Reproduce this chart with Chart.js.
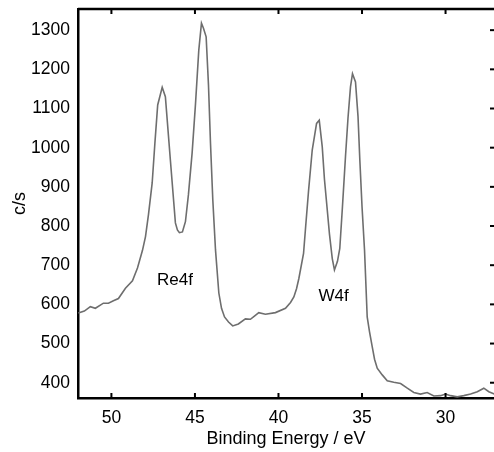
<!DOCTYPE html>
<html>
<head>
<meta charset="utf-8">
<script src="https://cdn.jsdelivr.net/npm/chart.js@4.4.1/dist/chart.umd.min.js"></script>
<style>
html, body { margin: 0; padding: 0; background: #fff; }
</style>
</head>
<body>
<canvas id="myChart" width="494" height="452"></canvas>
<script>
// binding energy (eV) and counts (c/s)
var energy = [
    51.98, 51.62, 51.26, 50.96, 50.48, 50.18, 49.88, 49.58, 49.16, 48.74,
    48.44, 48.14, 47.96, 47.78, 47.56, 47.40, 47.23, 46.96, 46.77, 46.47,
    46.17, 46.05, 45.93, 45.75, 45.57, 45.39, 45.17, 44.97, 44.77, 44.61,
    44.49, 44.33, 44.19, 44.07, 43.93, 43.77, 43.57, 43.41, 43.23, 42.99,
    42.74, 42.40, 41.98, 41.68, 41.44, 41.18, 40.78, 40.18, 39.58, 39.28,
    39.08, 38.92, 38.78, 38.50, 38.38, 38.20, 37.98, 37.72, 37.56, 37.38,
    37.25, 37.08, 36.95, 36.78, 36.65, 36.47, 36.33, 36.17, 35.99, 35.84,
    35.69, 35.57, 35.39, 35.24, 35.13, 35.00, 34.85, 34.69, 34.55, 34.39,
    34.25, 34.09, 33.79, 33.49, 33.10, 32.69, 32.29, 31.90, 31.50, 31.10,
    30.70, 30.30, 30.00, 29.70, 29.30, 28.91, 28.50, 28.10, 27.71, 27.41,
    27.07
];
var counts = [
    578, 583, 594, 590, 603, 603, 609, 615, 641, 660,
    693, 738, 773, 830, 910, 1010, 1109, 1154, 1130, 968,
    808, 790, 783, 785, 811, 880, 986, 1110, 1249, 1318,
    1305, 1283, 1160, 1012, 866, 739, 629, 590, 568, 555,
    545, 550, 563, 562, 570, 579, 575, 579, 590, 605,
    619, 640, 666, 730, 795, 890, 994, 1062, 1070, 1002,
    920, 841, 780, 717, 688, 710, 743, 850, 977, 1075,
    1155, 1189, 1168, 1080, 968, 850, 739, 568, 530, 492,
    460, 437, 420, 405, 401, 398, 386, 375, 371, 375,
    366, 367, 371, 367, 364, 367, 371, 377, 386, 377,
    371
];
var xTicks = [50, 45, 40, 35, 30];
var yTicks = [400, 500, 600, 700, 800, 900, 1000, 1100, 1200, 1300];
var peakNames = ['Re4f', 'W4f'];
var peakX = [46.2, 36.7];
var peakY = [662, 620];

Chart.defaults.font.family = "'Liberation Sans', Arial, sans-serif";
Chart.defaults.font.size = 17.5;
Chart.defaults.color = '#000';

var points = energy.map(function (e, i) { return { x: e, y: counts[i] }; });

var frame = {
    id: 'frame',
    afterDraw: function (chart) {
        var c = chart.ctx, a = chart.chartArea;
        var xs = chart.scales.x, ys = chart.scales.y;
        c.save();
        c.strokeStyle = '#000';
        c.lineWidth = 2.5;
        c.beginPath();
        c.moveTo(a.left, a.top);
        c.lineTo(a.right, a.top);
        c.stroke();
        c.lineWidth = 2;
        xTicks.forEach(function (v) {
            var px = xs.getPixelForValue(v);
            c.beginPath();
            c.moveTo(px, a.bottom);
            c.lineTo(px, a.bottom - 5);
            c.moveTo(px, a.top);
            c.lineTo(px, a.top + 5);
            c.stroke();
        });
        yTicks.forEach(function (v) {
            var py = ys.getPixelForValue(v);
            c.beginPath();
            c.moveTo(a.right, py);
            c.lineTo(a.right - 4, py);
            c.stroke();
        });
        c.fillStyle = '#000';
        c.font = "17px 'Liberation Sans', Arial, sans-serif";
        c.textAlign = 'center';
        c.textBaseline = 'middle';
        peakNames.forEach(function (t, i) {
            c.fillText(t, xs.getPixelForValue(peakX[i]), ys.getPixelForValue(peakY[i]));
        });
        c.restore();
    }
};

var ctx = document.getElementById('myChart').getContext('2d');
var myChart = new Chart(ctx, {
    type: 'scatter',
    data: {
        datasets: [{
            data: points,
            showLine: true,
            borderColor: '#6e6e6e',
            borderWidth: 1.6,
            pointRadius: 0,
            tension: 0
        }]
    },
    options: {
        responsive: false,
        animation: false,
        layout: { padding: { top: 9, right: 0, left: 0, bottom: 0 } },
        plugins: {
            legend: { display: false },
            tooltip: { enabled: false }
        },
        scales: {
            x: {
                type: 'linear',
                reverse: true,
                min: 27.1,
                max: 52,
                afterBuildTicks: function (s) { s.ticks = xTicks.map(function (v) { return { value: v }; }); },
                afterFit: function (s) { s.height = 54; s.paddingLeft = 0; s.paddingRight = 0; },
                grid: { display: false, drawTicks: false },
                border: { display: true, color: '#000', width: 2.5 },
                ticks: { padding: 10, maxRotation: 0, callback: function (v) { return String(v); } },
                title: { display: true, text: 'Binding Energy / eV', font: { size: 18 }, padding: { top: 0, bottom: 2 } }
            },
            y: {
                min: 361,
                max: 1354,
                afterBuildTicks: function (s) { s.ticks = yTicks.map(function (v) { return { value: v }; }); },
                afterFit: function (s) { s.width = 78; s.paddingTop = 0; s.paddingBottom = 0; },
                grid: { display: false, drawTicks: false },
                border: { display: true, color: '#000', width: 2.5 },
                ticks: { padding: 8, callback: function (v) { return String(v); } },
                title: { display: true, text: 'c/s', font: { size: 18 }, padding: { top: 9, bottom: 0 } }
            }
        }
    },
    plugins: [frame]
});
</script>
</body>
</html>
